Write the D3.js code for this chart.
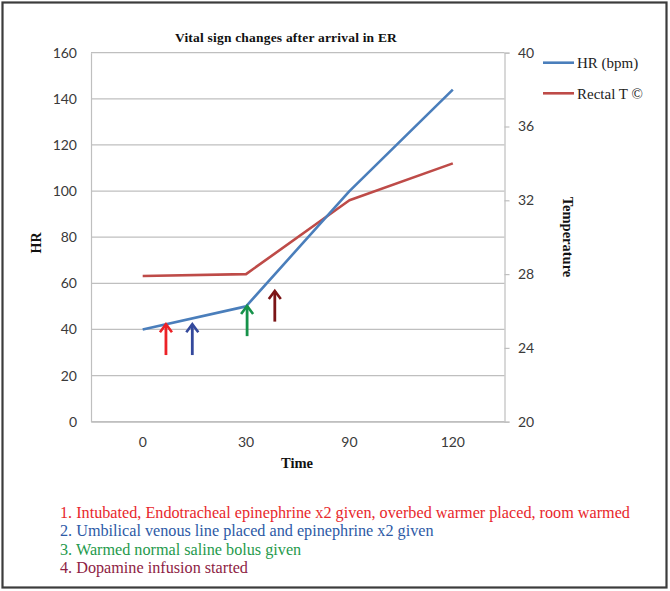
<!DOCTYPE html>
<html>
<head>
<meta charset="utf-8">
<script src="https://cdn.jsdelivr.net/npm/d3@7"></script>
<style>
  html, body { margin: 0; padding: 0; background: #fff; }
  svg { display: block; }
</style>
</head>
<body>
<svg id="chart" width="670" height="591"></svg>
<script>
// ---- data ----
const categories = ["0", "30", "90", "120"];
const hrValues = [40, 50, 100, 144];
const tempValues = [27.9, 28, 32, 34];
const hrTicks = [0, 20, 40, 60, 80, 100, 120, 140, 160];
const tempTicks = [20, 24, 28, 32, 36, 40];
const seriesNames = ["HR (bpm)", "Rectal T \u00A9"];
const seriesColors = ["#4a7ebb", "#be4b48"];
// arrows: position in category-index units, HR units for y
const arrowIdx = [0.225, 0.48, 1.01, 1.278];
const arrowTop = [42.7, 42.7, 50.6, 57.1];
const arrowBottom = [28.9, 28.9, 37.1, 43.4];
const arrowColors = ["#ec2227", "#34499c", "#16924a", "#7b1416"];
const notes = [
  "1. Intubated, Endotracheal epinephrine x2 given, overbed warmer placed, room warmed",
  "2. Umbilical venous line placed and epinephrine x2 given",
  "3. Warmed normal saline bolus given",
  "4. Dopamine infusion started"
];
const noteColors = ["#e8282c", "#2d5aa6", "#1f9a4c", "#8e1d44"];

// ---- layout ----
const svg = d3.select("#chart");
const L = 91, R = 504.5, T = 52.7, B = 421.7;

svg.append("rect").attr("x", 2.5).attr("y", 2.5).attr("width", 664).attr("height", 585)
  .attr("fill", "#fff").attr("stroke", "#3c3c3c").attr("stroke-width", 2.2);

const xBand = d3.scaleBand().domain(categories).range([L, R]);
const xIdx = d3.scaleLinear().domain([-0.5, categories.length - 0.5]).range([L, R]);
const yHR = d3.scaleLinear().domain([0, 160]).range([B, T]);
const yT = d3.scaleLinear().domain([20, 40]).range([B, T]);

const gridColor = "#bfbfbf";
const tickFont = "Lato, 'Liberation Sans', sans-serif";
const serif = "'Liberation Serif', 'Times New Roman', serif";

// gridlines
svg.append("g").selectAll("line").data(hrTicks).join("line")
  .attr("x1", L).attr("x2", R)
  .attr("y1", d => yHR(d)).attr("y2", d => yHR(d))
  .attr("stroke", gridColor).attr("stroke-width", 1.2);

// left axis
const gL = svg.append("g").attr("transform", `translate(${L},0)`)
  .call(d3.axisLeft(yHR).tickValues(hrTicks).tickSize(0).tickPadding(14));
gL.select(".domain").attr("stroke", gridColor).attr("stroke-width", 1.2);
gL.selectAll("text").attr("font-family", tickFont).attr("font-size", 14).attr("fill", "#3a3a3a");

// right axis
const gR = svg.append("g").attr("transform", `translate(${R},0)`)
  .call(d3.axisRight(yT).tickValues(tempTicks).tickSize(5).tickPadding(8.5));
gR.select(".domain").attr("stroke", gridColor).attr("stroke-width", 1.2);
gR.selectAll(".tick line").attr("stroke", gridColor).attr("stroke-width", 1.2);
gR.selectAll("text").attr("font-family", tickFont).attr("font-size", 14).attr("fill", "#3a3a3a");

// bottom axis
const gB = svg.append("g").attr("transform", `translate(0,${B})`)
  .call(d3.axisBottom(xBand).tickSize(0).tickPadding(15));
gB.select(".domain").attr("stroke", gridColor).attr("stroke-width", 1.2);
gB.selectAll("text").attr("font-family", tickFont).attr("font-size", 14).attr("fill", "#3a3a3a");

// series lines
const xc = c => xBand(c) + xBand.bandwidth() / 2;
const lineHR = d3.line().x((d, i) => xc(categories[i])).y(d => yHR(d));
const lineT = d3.line().x((d, i) => xc(categories[i])).y(d => yT(d));
svg.append("path").datum(tempValues).attr("d", lineT)
  .attr("fill", "none").attr("stroke", seriesColors[1]).attr("stroke-width", 2.6)
  .attr("stroke-linejoin", "round");
svg.append("path").datum(hrValues).attr("d", lineHR)
  .attr("fill", "none").attr("stroke", seriesColors[0]).attr("stroke-width", 2.6)
  .attr("stroke-linejoin", "round");

// arrows
const ga = svg.append("g");
arrowIdx.forEach((a, i) => {
  const x = xIdx(a), yt = yHR(arrowTop[i]), yb = yHR(arrowBottom[i]);
  ga.append("line").attr("x1", x).attr("x2", x).attr("y1", yb).attr("y2", yt + 1)
    .attr("stroke", arrowColors[i]).attr("stroke-width", 2.8);
  ga.append("path").attr("d", `M${x - 6},${yt + 9}L${x},${yt + 1}L${x + 6},${yt + 9}`)
    .attr("fill", "none").attr("stroke", arrowColors[i]).attr("stroke-width", 2.6)
    .attr("stroke-linejoin", "miter");
});

// title
svg.append("text").attr("x", 286).attr("y", 42).attr("text-anchor", "middle")
  .attr("font-family", serif).attr("font-weight", "bold").attr("font-size", 13.5)
  .attr("letter-spacing", 0.2)
  .attr("fill", "#111").text("Vital sign changes after arrival in ER");

// axis titles
svg.append("text").attr("transform", "translate(41,243) rotate(-90)").attr("text-anchor", "middle")
  .attr("font-family", serif).attr("font-weight", "bold").attr("font-size", 14)
  .attr("fill", "#111").text("HR");
svg.append("text").attr("transform", "translate(563,237) rotate(90)").attr("text-anchor", "middle")
  .attr("font-family", serif).attr("font-weight", "bold").attr("font-size", 14.5)
  .attr("fill", "#111").text("Temperature");
svg.append("text").attr("x", 297).attr("y", 468).attr("text-anchor", "middle")
  .attr("font-family", serif).attr("font-weight", "bold").attr("font-size", 14.5)
  .attr("fill", "#111").text("Time");

// legend
const legY = [62.7, 93.3];
seriesNames.forEach((n, i) => {
  svg.append("line").attr("x1", 543).attr("x2", 574).attr("y1", legY[i]).attr("y2", legY[i])
    .attr("stroke", seriesColors[i]).attr("stroke-width", 2.6);
  svg.append("text").attr("x", 577).attr("y", legY[i] + 5.5)
    .attr("font-family", serif).attr("font-size", 15).attr("fill", "#222").text(n);
});

// notes
notes.forEach((n, i) => {
  svg.append("text").attr("x", 60).attr("y", 518 + i * 18.3)
    .attr("font-family", serif).attr("font-size", 16.2).attr("fill", noteColors[i]).text(n);
});
</script>
</body>
</html>
